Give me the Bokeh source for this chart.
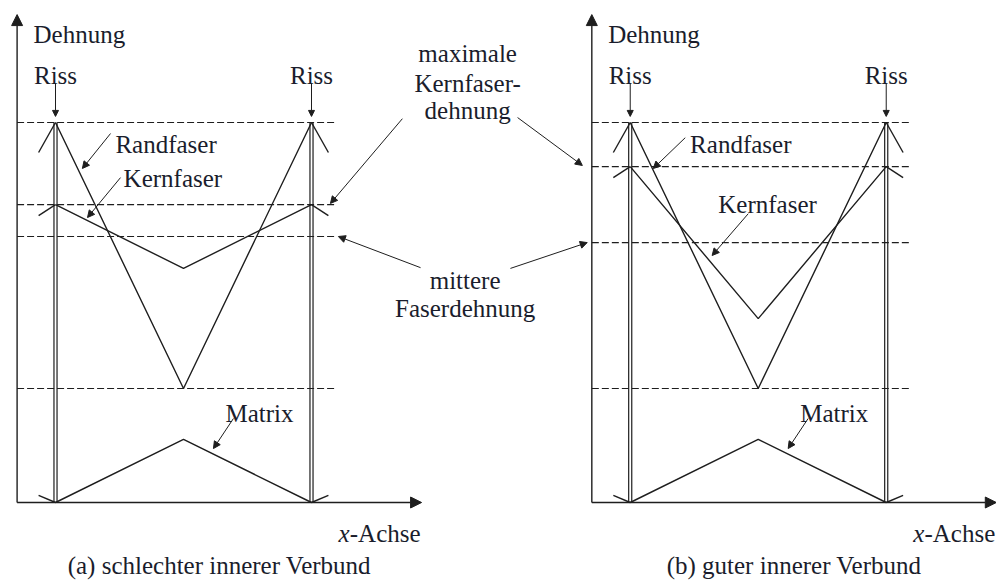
from bokeh.plotting import figure
from bokeh.models import Range1d, Arrow, NormalHead
from bokeh.core.properties import value
from bokeh.embed import file_html
from bokeh.resources import INLINE

# Position along the fibre between two cracks (crack, midpoint, crack)
X_PROFILE = [0.0, 5.0, 10.0]

# (a) schlechter innerer Verbund -- strain profiles
A_RANDFASER = [100.0, 30.0, 100.0]
A_KERNFASER = [78.4, 61.6, 78.4]
A_MATRIX = [0.0, 16.6, 0.0]
A_MITTLERE = 70.0

# (b) guter innerer Verbund -- strain profiles
B_RANDFASER = [100.0, 30.0, 100.0]
B_KERNFASER = [88.4, 48.4, 88.4]
B_MATRIX = [0.0, 16.6, 0.0]
B_MITTLERE = 68.4

CAPTIONS = ["(a) schlechter innerer Verbund", "(b) guter innerer Verbund"]

# ---- layout ----
W, H = 996, 581
PX_X, PX_Y = 25.6, 3.8          # pixels per unit
X0_PX, Y0_PX = 55, 502          # where (0, 0) of panel (a) sits
PANEL_B = 22.45                 # x offset of panel (b)
AXIS_X = -1.5                   # y axis left of first crack
X_END = 14.3                    # x axis arrow tip
Y_TOP = 128.4                   # y axis arrow tip
DASH_END = 10.9
GAP = 0.06                      # half spacing of the crack double line
STUB = 0.66                     # stub length beyond the cracks
STUB_DROP = [7.9, 2.9, -1.9]    # randfaser, kernfaser, matrix

INK = "#1e1e1e"
TXT = "#1a1d2c"
FONT = value("'Liberation Serif', 'Times New Roman', serif")
FS = "25px"

p = figure(width=W, height=H,
           x_range=Range1d(-X0_PX / PX_X, (W - X0_PX) / PX_X),
           y_range=Range1d(-(H - Y0_PX) / PX_Y, Y0_PX / PX_Y),
           output_backend="svg", toolbar_location=None,
           x_axis_location=None, y_axis_location=None,
           min_border=0, outline_line_color=None)
p.grid.visible = False
p.background_fill_color = "white"
p.border_fill_color = "white"


def label(x, y, txt, align="left", style="normal"):
    p.text(x=[x], y=[y], text=[txt], text_font=FONT, text_font_size=FS,
           text_align=align, text_baseline="alphabetic", text_color=TXT,
           text_font_style=style)


def arrow(x0, y0, x1, y1, size=7, lw=1.0):
    p.add_layout(Arrow(end=NormalHead(size=size, fill_color=INK, line_color=INK,
                                      line_width=1),
                       x_start=x0, y_start=y0, x_end=x1, y_end=y1,
                       line_color=INK, line_width=lw))


def panel(ox, rand, kern, matrix, mean, rand_lbl, kern_lbl, caption):
    xs = [ox + x for x in X_PROFILE]
    ax = ox + AXIS_X

    # axes
    arrow(ax, 0, ax, Y_TOP, size=11, lw=1.4)
    arrow(ax, 0, ox + X_END, 0, size=11, lw=1.4)

    # dashed reference levels
    levels = [rand[0], kern[0], mean, rand[1]]
    p.segment(x0=[ax] * 4, y0=levels, x1=[ox + DASH_END] * 4, y1=levels,
              line_dash="7 3", line_width=1.1, line_color=INK)

    # cracks as double lines
    for xc in (xs[0], xs[-1]):
        p.segment(x0=[xc - GAP, xc + GAP], y0=[0, 0],
                  x1=[xc - GAP, xc + GAP], y1=[rand[0], rand[0]],
                  line_width=1.2, line_color=INK)

    # strain profiles
    for prof in (rand, kern, matrix):
        p.line(xs, prof, line_width=1.4, line_color=INK)

    # continuation into the neighbouring crack spacing
    for prof, drop in zip((rand, kern, matrix), STUB_DROP):
        p.segment(x0=[xs[0] - STUB, xs[-1]], y0=[prof[0] - drop, prof[-1]],
                  x1=[xs[0], xs[-1] + STUB], y1=[prof[0], prof[-1] - drop],
                  line_width=1.4, line_color=INK)

    # crack labels
    for xc in (xs[0], xs[-1]):
        label(xc, 112.3, "Riss", align="center")
        arrow(xc, 110.3, xc, rand[0] + 1.6, size=6)

    label(ox - 0.86, 123.2, "Dehnung")

    # curve labels
    label(ox + rand_lbl[0], rand_lbl[1], "Randfaser")
    arrow(ox + rand_lbl[2], rand_lbl[3], ox + rand_lbl[4], rand_lbl[5])
    label(ox + kern_lbl[0], kern_lbl[1], "Kernfaser")
    arrow(ox + kern_lbl[2], kern_lbl[3], ox + kern_lbl[4], kern_lbl[5])
    label(ox + 7.97, 23.5, "Matrix", align="center")
    arrow(ox + 6.95, 22.1, ox + 6.17, 14.2)

    # axis title
    label(ox + 14.26, -8.1, "-Achse", align="right")
    label(ox + 11.49, -8.1, "x", align="right", style="italic")

    label(ox + 6.4, -16.7, caption, align="center")


panel(0.0, A_RANDFASER, A_KERNFASER, A_MATRIX, A_MITTLERE,
      (2.34, 94.2, 2.15, 97.1, 1.05, 87.9),
      (2.66, 85.3, 2.54, 85.5, 1.25, 75.0), CAPTIONS[0])
panel(PANEL_B, B_RANDFASER, B_KERNFASER, B_MATRIX, B_MITTLERE,
      (2.34, 94.2, 2.15, 96.0, 0.9, 87.9),
      (3.44, 78.4, 4.61, 76.0, 3.2, 65.0), CAPTIONS[1])

# shared labels between the panels
for y, t in ((118.2, "maximale"), (110.3, "Kernfaser-"), (103.2, "dehnung")):
    label(16.1, y, t, align="center")
arrow(13.55, 101.0, 10.74, A_KERNFASER[0] + 0.3)
arrow(18.05, 101.3, PANEL_B + AXIS_X - 0.37, B_KERNFASER[0] + 0.3)

for y, t in ((58.4, "mittere"), (51.0, "Faserdehnung")):
    label(16.0, y, t, align="center")
arrow(14.26, 61.8, 11.05, A_MITTLERE)
arrow(17.77, 61.6, PANEL_B + AXIS_X - 0.18, B_MITTLERE)

open("out.html", "w").write(file_html(p, INLINE))
